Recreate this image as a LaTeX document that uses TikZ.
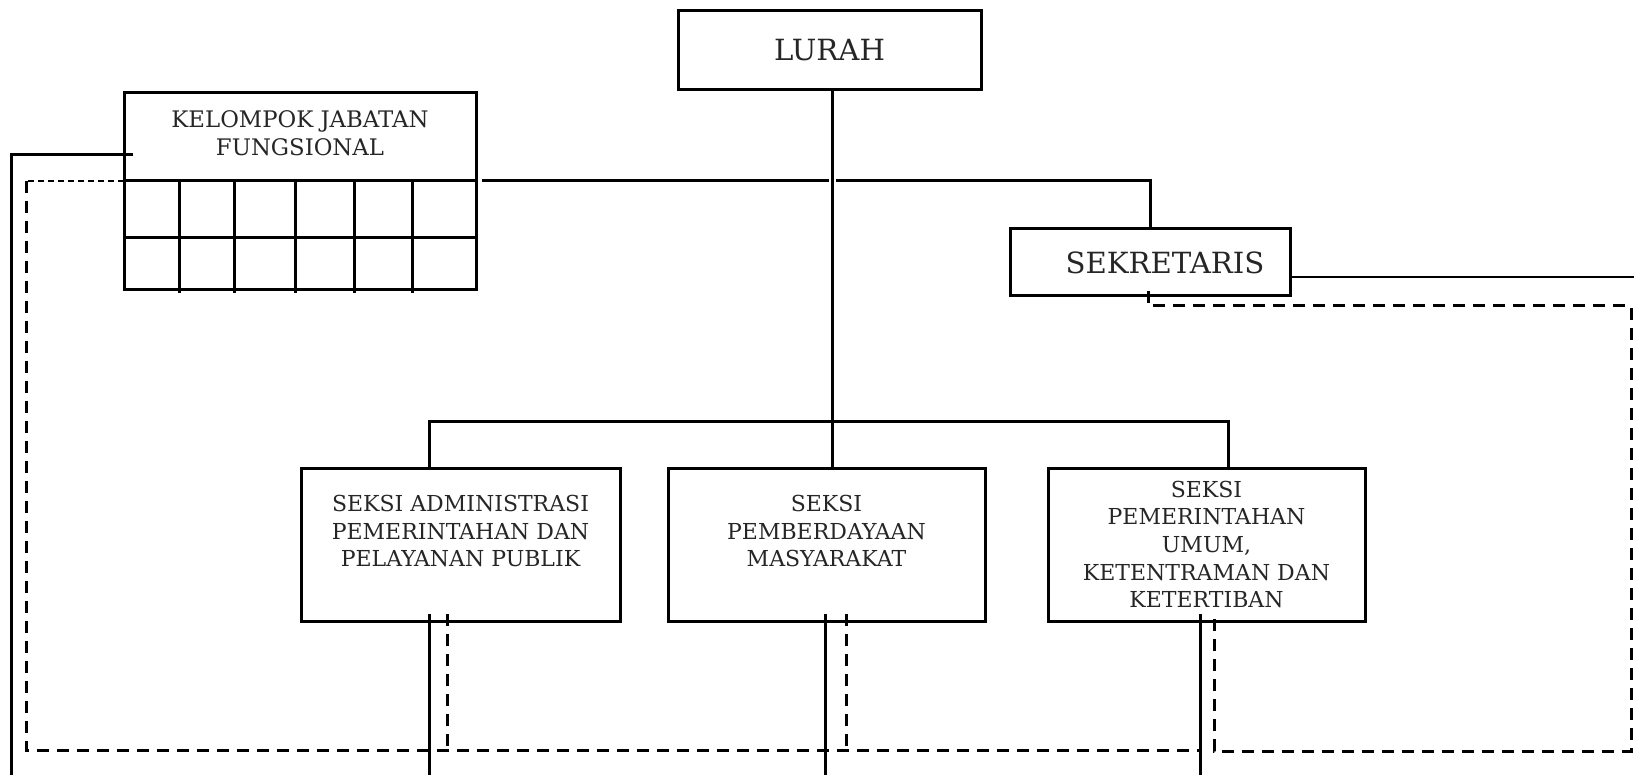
\documentclass[tikz,border=0pt]{standalone}
\usepackage{fontspec}
\setmainfont{DejaVu Serif}
\usetikzlibrary{calc}
\begin{document}
\begin{tikzpicture}[x=0.5pt,y=-0.5pt,
  box/.style={draw, line width=1.5pt, inner sep=0pt, outer sep=0pt},
  conn/.style={line width=1.5pt},
  thinconn/.style={line width=0.75pt},
  dconn/.style={line width=1.5pt, dash pattern=on 6pt off 4pt},
  thindash/.style={line width=0.6pt, dash pattern=on 3pt off 2pt},
  lbl/.style={align=center, inner sep=0pt, font=\fontsize{11}{13.8}\selectfont, text=black!85},
  big/.style={font=\fontsize{14.6}{16}\selectfont, text=black!85}
]
\useasboundingbox (0,0) rectangle (1634,775);

% boxes
\node[box, big, minimum width=151.5pt, minimum height=39.5pt] (lurah) at (829.5,50.5) {LURAH};
\node[box, minimum width=176pt, minimum height=44pt] (kjf) at (300,137) {};
\node[lbl, font=\fontsize{11.4}{14}\selectfont] (kjft) at (300,133) {KELOMPOK JABATAN\\FUNGSIONAL};
\node[box, minimum width=140pt, minimum height=33.5pt] (sek) at (1150,262.5) {};
\node[big, inner sep=0pt] (sekt) at (1165,262.5) {SEKRETARIS};
\node[box, minimum width=159.5pt, minimum height=76.5pt] (s1) at (460.5,544.5) {};
\node[lbl] (s1t) at (460.5,531) {SEKSI ADMINISTRASI\\PEMERINTAHAN DAN\\PELAYANAN PUBLIK};
\node[box, minimum width=158.5pt, minimum height=76.5pt] (s2) at (826.5,544.5) {};
\node[lbl] (s2t) at (826.5,531) {SEKSI\\PEMBERDAYAAN\\MASYARAKAT};
\node[box, lbl, minimum width=158.5pt, minimum height=76.5pt, draw, line width=1.5pt] (s3) at (1206.5,544.5) {SEKSI\\PEMERINTAHAN\\UMUM,\\KETENTRAMAN DAN\\KETERTIBAN};

% grid under KJF
\draw[conn] (kjf.south west) rectangle (476,290);
\draw[conn] (124,238) -- (476,238);
\foreach \gx in {179,234,295,354,412} \draw[conn] (\gx,181) -- (\gx,293);

% coordinates
\coordinate (lv0) at (832,90);
\coordinate (lvb) at (832,468);
\coordinate (bus1) at (429,421);
\coordinate (bus3) at (1228,421);
\coordinate (h0) at (482,181);
\coordinate (h1) at (829,181);
\coordinate (h2) at (836,181);
\coordinate (sektop) at (1150,229);
\coordinate (sekr) at (1290,277);
\coordinate (rightend) at (1634,277);
\coordinate (kjfl) at (133,155);
\coordinate (leftend) at (11.5,775);
\coordinate (kjfd) at (124,181);
\coordinate (ld) at (26,181);
\coordinate (sekd) at (1148,291);

% solid connectors
\draw[conn] (lv0) -- (lvb);
\draw[conn] (bus1 |- s1.north) -- (bus1) -- (bus3) -- (bus3 |- s3.north);
\draw[conn] (h0) -- (h1);
\draw[conn] (h2) -| (sektop);
\draw[thinconn] (sekr) -- (rightend);
\draw[conn] (kjfl) -| (leftend);

% lines leaving section boxes
\draw[conn] (429,614) -- (429,775);
\draw[conn] (825,614) -- (825,775);
\draw[conn] (1200,614) -- (1200,775);

% dashed
\draw[thindash] (kjfd) -- (ld);
\draw[dconn] (ld) -- (26,750) -- (1200,750);
\draw[dconn] (447,614) -- (447,750);
\draw[dconn] (846,614) -- (846,750);
\draw[dconn] (sekd) -- (1148,306) -- (1631,306) -- (1631,751) -- (1214,751) -- (1214,614);
\end{tikzpicture}
\end{document}
